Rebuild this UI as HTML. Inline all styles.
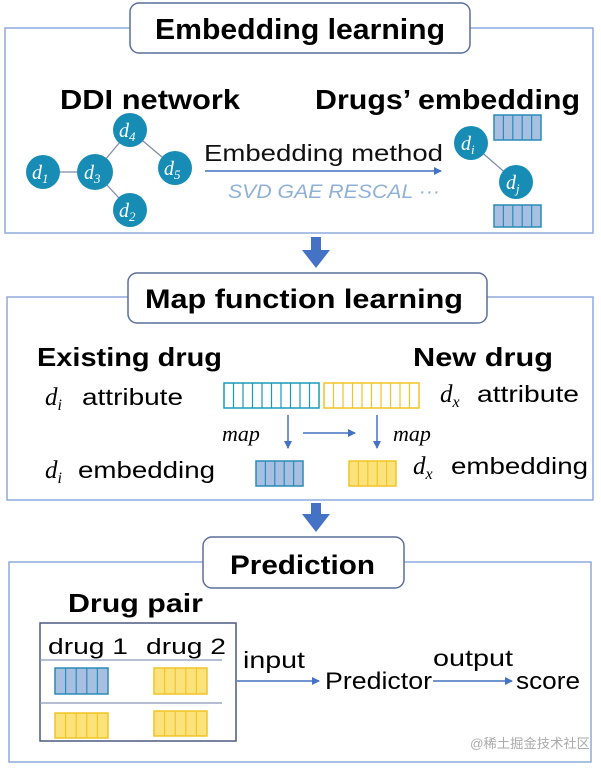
<!DOCTYPE html>
<html><head><meta charset="utf-8"><style>
html,body{margin:0;padding:0;background:#fff;}
svg{display:block;font-family:"Liberation Sans",sans-serif;}
.m{font-family:"Liberation Serif",serif;font-style:italic;fill:#fff;}
</style></head><body>
<svg width="601" height="769" viewBox="0 0 601 769" xmlns="http://www.w3.org/2000/svg">
<defs>
<marker id="ah" markerWidth="8" markerHeight="8" refX="7" refY="4" orient="auto" markerUnits="userSpaceOnUse"><path d="M0,0 L8,4 L0,8 z" fill="#4472c4"/></marker>
</defs>
<!-- Panel 1 -->
<rect x="5" y="28" width="588" height="205" fill="none" stroke="#8faadc" stroke-width="1.5"/>
<rect x="130" y="3" width="340" height="50" rx="9" fill="#fff" stroke="#5a6f9a" stroke-width="1.5"/>
<text x="155" y="39" font-size="29" font-weight="bold" textLength="290" lengthAdjust="spacingAndGlyphs">Embedding learning</text>
<text x="60" y="109" font-size="28" font-weight="bold" textLength="180" lengthAdjust="spacingAndGlyphs">DDI network</text>
<text x="315" y="109" font-size="28" font-weight="bold" textLength="265" lengthAdjust="spacingAndGlyphs">Drugs’ embedding</text>
<g stroke="#7a8aa8" stroke-width="1.2">
<line x1="43" y1="172" x2="95" y2="172"/><line x1="95" y1="172" x2="130" y2="130"/><line x1="130" y1="130" x2="175" y2="168"/><line x1="95" y1="172" x2="130" y2="210"/><line x1="471" y1="143" x2="516" y2="182"/>
</g>
<g fill="#178db5">
<circle cx="130" cy="130" r="17"/><circle cx="43" cy="172" r="17"/><circle cx="95" cy="172" r="18"/><circle cx="175" cy="168" r="17"/><circle cx="130" cy="210" r="17"/><circle cx="471" cy="143" r="17"/><circle cx="516" cy="182" r="17"/>
</g>
<g class="m" font-size="20">
<text x="119" y="137">d<tspan font-size="13" dy="4">4</tspan></text>
<text x="32" y="179">d<tspan font-size="13" dy="4">1</tspan></text>
<text x="84" y="179">d<tspan font-size="13" dy="4">3</tspan></text>
<text x="164" y="175">d<tspan font-size="13" dy="4">5</tspan></text>
<text x="119" y="217">d<tspan font-size="13" dy="4">2</tspan></text>
<text x="461" y="150">d<tspan font-size="13" dy="4">i</tspan></text>
<text x="506" y="189">d<tspan font-size="13" dy="4">j</tspan></text>
</g>
<text x="204" y="161" font-size="23" fill="#111" textLength="239" lengthAdjust="spacingAndGlyphs">Embedding method</text>
<line x1="205" y1="171" x2="441" y2="171" stroke="#4472c4" stroke-width="1.5" marker-end="url(#ah)"/>
<text x="228" y="198" font-size="19" font-style="italic" fill="#8fb1d8" textLength="212" lengthAdjust="spacingAndGlyphs">SVD GAE RESCAL ···</text>
<g stroke="#2a8cb8" stroke-width="1.5" fill="#a7bfe0">
<rect x="494" y="115" width="47" height="25"/><rect x="494" y="205" width="47" height="22"/>
</g>
<path d="M503.4,115v25M512.8,115v25M522.2,115v25M531.6,115v25M503.4,205v22M512.8,205v22M522.2,205v22M531.6,205v22" stroke="#2a8cb8" stroke-width="1.2"/>
<!-- arrow 1 -->
<rect x="311" y="237" width="10" height="14" fill="#4472c4"/><path d="M302,250 L330,250 L316,268 z" fill="#4472c4"/>
<!-- Panel 2 -->
<rect x="7" y="297" width="586" height="203" fill="none" stroke="#8faadc" stroke-width="1.5"/>
<rect x="128" y="273" width="359" height="50" rx="9" fill="#fff" stroke="#5a6f9a" stroke-width="1.5"/>
<text x="145" y="308" font-size="27" font-weight="bold" textLength="318" lengthAdjust="spacingAndGlyphs">Map function learning</text>
<text x="37" y="366" font-size="26" font-weight="bold" textLength="185" lengthAdjust="spacingAndGlyphs">Existing drug</text>
<text x="413" y="366" font-size="26" font-weight="bold" textLength="140" lengthAdjust="spacingAndGlyphs">New drug</text>
<text x="45" y="405" font-family="Liberation Serif" font-style="italic" font-size="25">d<tspan font-size="16" dy="5">i</tspan></text>
<text x="82" y="405" font-size="23" textLength="101" lengthAdjust="spacingAndGlyphs">attribute</text>
<text x="440" y="402" font-family="Liberation Serif" font-style="italic" font-size="25">d<tspan font-size="16" dy="5">x</tspan></text>
<text x="477" y="402" font-size="23" textLength="102" lengthAdjust="spacingAndGlyphs">attribute</text>
<rect x="224" y="383" width="95" height="25" fill="#fff" stroke="#1a9ab8" stroke-width="1.5"/>
<path d="M233.5,383v25M243,383v25M252.5,383v25M262,383v25M271.5,383v25M281,383v25M290.5,383v25M300,383v25M309.5,383v25" stroke="#1a9ab8" stroke-width="1.2"/>
<rect x="324" y="383" width="95" height="25" fill="#fff" stroke="#f2c426" stroke-width="1.5"/>
<path d="M333.5,383v25M343,383v25M352.5,383v25M362,383v25M371.5,383v25M381,383v25M390.5,383v25M400,383v25M409.5,383v25" stroke="#f2c426" stroke-width="1.2"/>
<line x1="288" y1="415" x2="288" y2="448" stroke="#4472c4" stroke-width="1.5" marker-end="url(#ah)"/>
<line x1="377" y1="415" x2="377" y2="448" stroke="#4472c4" stroke-width="1.5" marker-end="url(#ah)"/>
<line x1="303" y1="433" x2="355" y2="433" stroke="#4472c4" stroke-width="1.5" marker-end="url(#ah)"/>
<text x="222" y="441" font-family="Liberation Serif" font-style="italic" font-size="22">map</text>
<text x="393" y="441" font-family="Liberation Serif" font-style="italic" font-size="22">map</text>
<text x="45" y="478" font-family="Liberation Serif" font-style="italic" font-size="25">d<tspan font-size="16" dy="5">i</tspan></text>
<text x="78" y="478" font-size="23" textLength="137" lengthAdjust="spacingAndGlyphs">embedding</text>
<text x="413" y="474" font-family="Liberation Serif" font-style="italic" font-size="25">d<tspan font-size="16" dy="5">x</tspan></text>
<text x="451" y="474" font-size="23" textLength="137" lengthAdjust="spacingAndGlyphs">embedding</text>
<rect x="256" y="461" width="47" height="25" fill="#a7bfe0" stroke="#2a8cb8" stroke-width="1.5"/>
<path d="M265.4,461v25M274.8,461v25M284.2,461v25M293.6,461v25" stroke="#2a8cb8" stroke-width="1.2"/>
<rect x="349" y="461" width="47" height="25" fill="#fbe27a" stroke="#f2c426" stroke-width="1.5"/>
<path d="M358.4,461v25M367.8,461v25M377.2,461v25M386.6,461v25" stroke="#f2c426" stroke-width="1.2"/>
<!-- arrow 2 -->
<rect x="311" y="503" width="10" height="12" fill="#4472c4"/><path d="M302,514 L330,514 L316,532 z" fill="#4472c4"/>
<!-- Panel 3 -->
<rect x="9" y="562" width="582" height="200" fill="none" stroke="#8faadc" stroke-width="1.5"/>
<rect x="203" y="537" width="201" height="51" rx="9" fill="#fff" stroke="#5a6f9a" stroke-width="1.5"/>
<text x="230" y="574" font-size="27" font-weight="bold" textLength="145" lengthAdjust="spacingAndGlyphs">Prediction</text>
<text x="68" y="612" font-size="26" font-weight="bold" textLength="135" lengthAdjust="spacingAndGlyphs">Drug pair</text>
<rect x="40" y="623" width="196" height="118" fill="none" stroke="#4a5a80" stroke-width="1.5"/>
<text x="48" y="654" font-size="22" textLength="80" lengthAdjust="spacingAndGlyphs">drug 1</text>
<text x="146" y="654" font-size="22" textLength="80" lengthAdjust="spacingAndGlyphs">drug 2</text>
<line x1="40" y1="660" x2="222" y2="660" stroke="#8a98b8" stroke-width="1.2"/>
<line x1="40" y1="703" x2="222" y2="703" stroke="#8a98b8" stroke-width="1.2"/>
<rect x="55" y="668" width="53" height="26" fill="#a7bfe0" stroke="#2a8cb8" stroke-width="1.5"/>
<path d="M65.6,668v26M76.2,668v26M86.8,668v26M97.4,668v26" stroke="#2a8cb8" stroke-width="1.2"/>
<g fill="#fbe27a" stroke="#f2c426" stroke-width="1.5">
<rect x="154" y="668" width="53" height="26"/><rect x="55" y="713" width="53" height="25"/><rect x="154" y="711" width="53" height="25"/>
</g>
<path d="M164.6,668v26M175.2,668v26M185.8,668v26M196.4,668v26M65.6,713v25M76.2,713v25M86.8,713v25M97.4,713v25M164.6,711v25M175.2,711v25M185.8,711v25M196.4,711v25" stroke="#f2c426" stroke-width="1.2"/>
<text x="243" y="668" font-size="23" textLength="62" lengthAdjust="spacingAndGlyphs">input</text>
<line x1="237" y1="681" x2="319" y2="681" stroke="#4472c4" stroke-width="1.5" marker-end="url(#ah)"/>
<text x="325" y="689" font-size="24" textLength="107" lengthAdjust="spacingAndGlyphs">Predictor</text>
<text x="433" y="666" font-size="23" textLength="80" lengthAdjust="spacingAndGlyphs">output</text>
<line x1="433" y1="681" x2="512" y2="681" stroke="#4472c4" stroke-width="1.5" marker-end="url(#ah)"/>
<text x="516" y="689" font-size="24" textLength="64" lengthAdjust="spacingAndGlyphs">score</text>
<text x="470" y="748" font-size="13" fill="#aaa" font-family="Liberation Sans, 'Noto Sans CJK SC', sans-serif" textLength="120" lengthAdjust="spacingAndGlyphs">@稀土掘金技术社区</text>
</svg>
</body></html>
